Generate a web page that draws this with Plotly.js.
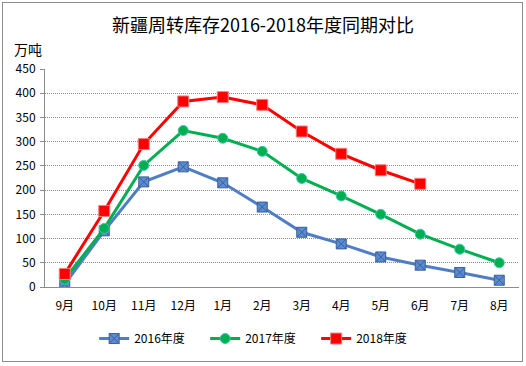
<!DOCTYPE html>
<html><head><meta charset="utf-8">
<script src="https://cdn.plot.ly/plotly-3.0.1.min.js"></script>
<style>
body{margin:0;padding:0;background:#fff;}
#wrap{position:relative;width:526px;height:366px;}
#chart{width:526px;height:366px;}
#frame{position:absolute;left:2px;top:2px;width:519px;height:358px;border:1px solid #8c8c8c;pointer-events:none;}
</style></head>
<body>
<div id="wrap"><div id="chart"></div><div id="frame"></div></div>
<script>
const months = ["9月","10月","11月","12月","1月","2月","3月","4月","5月","6月","7月","8月"];
const s2016 = [6,116,217,248,215,165,113,89,62,45,30,14];
const s2017 = [16,121,251,323,307,280,224,188,150,109,78,50];
const s2018 = [27,157,295,383,392,376,321,275,241,213];
const names = ["2016年度","2017年度","2018年度"];
const font = "'Noto Sans CJK SC', 'Noto Sans', sans-serif";

const traces = [
  {x: months, y: s2016, name: names[0], type:'scatter', mode:'lines+markers',
   line:{color:'#4F7EC6', width:3},
   marker:{symbol:'square-x', size:10, color:'#5B8BD0', line:{color:'#3A5F9A', width:1}}},
  {x: months.slice(0, s2017.length), y: s2017, name: names[1], type:'scatter', mode:'lines+markers',
   line:{color:'#00B050', width:3},
   marker:{symbol:'circle', size:10, color:'#00B050', line:{color:'#3CC6B0', width:1}}},
  {x: months.slice(0, s2018.length), y: s2018, name: names[2], type:'scatter', mode:'lines+markers',
   line:{color:'#FF0000', width:3},
   marker:{symbol:'square', size:11, color:'#FF0000', line:{color:'#F08080', width:1}}}
];

const layout = {
  width:526, height:366,
  margin:{l:45, r:7, t:69, b:79},
  paper_bgcolor:'#fff', plot_bgcolor:'#fff',
  font:{family:font, size:12, color:'#000'},
  title:{text:'新疆周转库存2016-2018年度同期对比', x:0.5, xanchor:'center', y:0.93, yanchor:'middle', yref:'container',
         font:{family:font, size:18, color:'#000'}},
  xaxis:{type:'category', range:[-0.5, 11.5], showgrid:false, zeroline:false,
         showline:true, linecolor:'#8c8c8c', linewidth:1,
         ticks:'', ticklabelstandoff:8, tickfont:{size:12}, fixedrange:true},
  yaxis:{range:[0,450], dtick:50, showgrid:true, gridcolor:'#8c8c8c', griddash:'1px,1px', gridwidth:1,
         zeroline:false, showline:true, linecolor:'#8c8c8c', linewidth:1,
         ticks:'outside', ticklen:4, tickcolor:'#8c8c8c', ticklabelstandoff:2, tickfont:{size:12}, fixedrange:true},
  legend:{orientation:'h', x:0.455, xanchor:'center', y:-0.17, yanchor:'top',
          font:{size:12}, itemwidth:30, entrywidth:66, entrywidthmode:'pixels', tracegroupgap:0},
  showlegend:true,
  annotations:[{text:'万吨', xref:'paper', yref:'paper', x:-0.07, xanchor:'left', y:1.09, yanchor:'middle',
                showarrow:false, font:{family:font, size:14, color:'#000'}}]
};

Plotly.newPlot('chart', traces, layout, {displayModeBar:false, staticPlot:true});
</script>
</body></html>
